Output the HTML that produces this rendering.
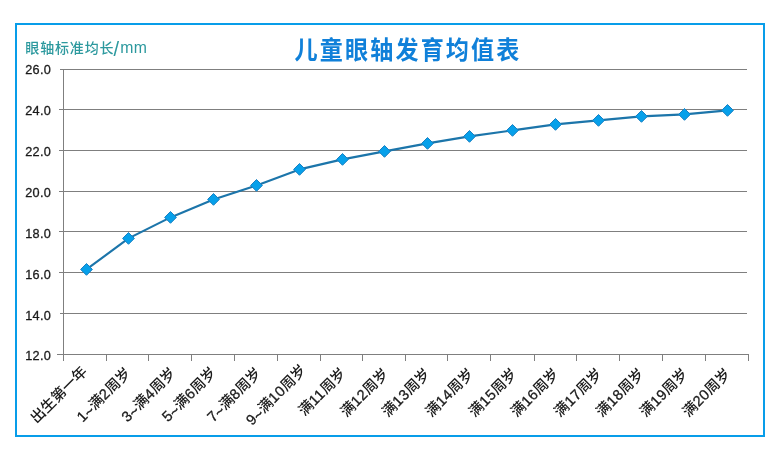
<!DOCTYPE html>
<html lang="zh-CN">
<head>
<meta charset="utf-8">
<title>儿童眼轴发育均值表</title>
<style>
html,body{margin:0;padding:0;background:#fff;}
body{width:780px;height:460px;overflow:hidden;position:relative;font-family:"Liberation Sans", "Noto Sans CJK SC", sans-serif;}
.frame{position:absolute;left:15px;top:23px;width:746px;height:410px;border:2px solid #089de9;background:#fff;}
svg{position:absolute;left:0;top:0;display:block;}
svg text{font-family:"Liberation Sans", "Noto Sans CJK SC", sans-serif;}
.title{font-size:25.5px;font-weight:700;fill:#1080d9;letter-spacing:2.4px;}
.ytitle{font-size:14px;fill:#2c999e;letter-spacing:0.85px;font-weight:500;}
.ytitle .sl{font-size:20px;font-weight:400;letter-spacing:0;}
.ytitle .mm{font-size:15.8px;font-weight:400;letter-spacing:0;}
.ylab{font-size:13.3px;fill:#1a1a1a;letter-spacing:0.35px;stroke:#1a1a1a;stroke-width:0.3px;}
.xlab{font-size:14.6px;fill:#1a1a1a;font-weight:500;}
.xlab .t{letter-spacing:0.2px;stroke:#1a1a1a;stroke-width:0.5px;}
.xlab .d{letter-spacing:0.45px;stroke:#1a1a1a;stroke-width:0.3px;}
</style>
</head>
<body>
<div class="frame"></div>
<svg width="780" height="460" viewBox="0 0 780 460">

<g stroke="#7f7f7f" stroke-width="1" fill="none">
<line x1="60.00" y1="69.50" x2="747.00" y2="69.50"/>
<line x1="59.00" y1="109.50" x2="747.00" y2="109.50"/>
<line x1="59.00" y1="150.50" x2="747.00" y2="150.50"/>
<line x1="59.00" y1="191.50" x2="747.00" y2="191.50"/>
<line x1="59.00" y1="231.50" x2="747.00" y2="231.50"/>
<line x1="59.00" y1="272.50" x2="747.00" y2="272.50"/>
<line x1="60.00" y1="313.50" x2="747.00" y2="313.50"/>
<line x1="57.00" y1="354.50" x2="749.00" y2="354.50"/>
<line x1="63.50" y1="69.50" x2="63.50" y2="361.00"/>
<line x1="106.50" y1="354.50" x2="106.50" y2="361.00"/>
<line x1="148.50" y1="354.50" x2="148.50" y2="361.00"/>
<line x1="191.50" y1="354.50" x2="191.50" y2="361.00"/>
<line x1="234.50" y1="354.50" x2="234.50" y2="361.00"/>
<line x1="277.50" y1="354.50" x2="277.50" y2="361.00"/>
<line x1="320.50" y1="354.50" x2="320.50" y2="361.00"/>
<line x1="362.50" y1="354.50" x2="362.50" y2="361.00"/>
<line x1="405.50" y1="354.50" x2="405.50" y2="361.00"/>
<line x1="447.50" y1="354.50" x2="447.50" y2="361.00"/>
<line x1="490.50" y1="354.50" x2="490.50" y2="361.00"/>
<line x1="534.50" y1="354.50" x2="534.50" y2="361.00"/>
<line x1="576.50" y1="354.50" x2="576.50" y2="361.00"/>
<line x1="619.50" y1="354.50" x2="619.50" y2="361.00"/>
<line x1="662.50" y1="354.50" x2="662.50" y2="361.00"/>
<line x1="705.50" y1="354.50" x2="705.50" y2="361.00"/>
<line x1="748.50" y1="354.50" x2="748.50" y2="361.00"/>
</g>
<polyline fill="none" stroke="#1c75aa" stroke-width="2.15" stroke-linejoin="round" points="86.50,269.40 128.50,238.40 170.50,217.40 213.50,199.40 256.50,185.40 299.50,169.40 342.50,159.40 384.50,151.40 427.50,143.40 469.50,136.40 512.50,130.40 555.50,124.40 598.50,120.40 641.50,116.40 684.50,114.40 727.50,110.40"/>
<g fill="#06a0ea" stroke="#1a80c2" stroke-width="1">
<path d="M86.50 263.50L92.40 269.40L86.50 275.30L80.60 269.40Z"/>
<path d="M128.50 232.50L134.40 238.40L128.50 244.30L122.60 238.40Z"/>
<path d="M170.50 211.50L176.40 217.40L170.50 223.30L164.60 217.40Z"/>
<path d="M213.50 193.50L219.40 199.40L213.50 205.30L207.60 199.40Z"/>
<path d="M256.50 179.50L262.40 185.40L256.50 191.30L250.60 185.40Z"/>
<path d="M299.50 163.50L305.40 169.40L299.50 175.30L293.60 169.40Z"/>
<path d="M342.50 153.50L348.40 159.40L342.50 165.30L336.60 159.40Z"/>
<path d="M384.50 145.50L390.40 151.40L384.50 157.30L378.60 151.40Z"/>
<path d="M427.50 137.50L433.40 143.40L427.50 149.30L421.60 143.40Z"/>
<path d="M469.50 130.50L475.40 136.40L469.50 142.30L463.60 136.40Z"/>
<path d="M512.50 124.50L518.40 130.40L512.50 136.30L506.60 130.40Z"/>
<path d="M555.50 118.50L561.40 124.40L555.50 130.30L549.60 124.40Z"/>
<path d="M598.50 114.50L604.40 120.40L598.50 126.30L592.60 120.40Z"/>
<path d="M641.50 110.50L647.40 116.40L641.50 122.30L635.60 116.40Z"/>
<path d="M684.50 108.50L690.40 114.40L684.50 120.30L678.60 114.40Z"/>
<path d="M727.50 104.50L733.40 110.40L727.50 116.30L721.60 110.40Z"/>
</g>
<text class="title" transform="translate(294.5,58.6) scale(0.905,1)">儿童眼轴发育均值表</text>
<text class="ytitle" x="25.3" y="52.6">眼轴标准均长<tspan class="sl" x="113.5" dy="3.5">/</tspan><tspan class="mm" x="120.2 133.7" dy="-3.1">mm</tspan></text>
<text class="ylab" transform="translate(51.2,73.75) scale(0.955,1.025)" text-anchor="end">26.0</text>
<text class="ylab" transform="translate(51.2,114.71) scale(0.955,1.025)" text-anchor="end">24.0</text>
<text class="ylab" transform="translate(51.2,155.67) scale(0.955,1.025)" text-anchor="end">22.0</text>
<text class="ylab" transform="translate(51.2,196.63) scale(0.955,1.025)" text-anchor="end">20.0</text>
<text class="ylab" transform="translate(51.2,237.59) scale(0.955,1.025)" text-anchor="end">18.0</text>
<text class="ylab" transform="translate(51.2,278.55) scale(0.955,1.025)" text-anchor="end">16.0</text>
<text class="ylab" transform="translate(51.2,319.51) scale(0.955,1.025)" text-anchor="end">14.0</text>
<text class="ylab" transform="translate(51.2,360.47) scale(0.955,1.025)" text-anchor="end">12.0</text>
<text class="xlab" text-anchor="end" transform="translate(88.10,372.40) rotate(-45)">出生第一年</text>
<text class="xlab" text-anchor="end" transform="translate(131.80,373.80) rotate(-45)"><tspan class="d">1</tspan><tspan class="t" dx="-0.4" dy="1.5">~</tspan><tspan dy="-1.5">满</tspan><tspan class="d">2</tspan>周岁</text>
<text class="xlab" text-anchor="end" transform="translate(176.60,373.80) rotate(-45)"><tspan class="d">3</tspan><tspan class="t" dx="-0.4" dy="1.5">~</tspan><tspan dy="-1.5">满</tspan><tspan class="d">4</tspan>周岁</text>
<text class="xlab" text-anchor="end" transform="translate(217.10,373.50) rotate(-45)"><tspan class="d">5</tspan><tspan class="t" dx="-0.4" dy="1.5">~</tspan><tspan dy="-1.5">满</tspan><tspan class="d">6</tspan>周岁</text>
<text class="xlab" text-anchor="end" transform="translate(262.20,373.80) rotate(-45)"><tspan class="d">7</tspan><tspan class="t" dx="-0.4" dy="1.5">~</tspan><tspan dy="-1.5">满</tspan><tspan class="d">8</tspan>周岁</text>
<text class="xlab" text-anchor="end" transform="translate(307.10,371.00) rotate(-45)"><tspan class="d">9</tspan><tspan class="t" dx="-0.4" dy="1.5">~</tspan><tspan dy="-1.5">满</tspan><tspan class="d">10</tspan>周岁</text>
<text class="xlab" text-anchor="end" transform="translate(346.80,374.20) rotate(-45)">满<tspan class="d">11</tspan>周岁</text>
<text class="xlab" text-anchor="end" transform="translate(389.50,374.60) rotate(-45)">满<tspan class="d">12</tspan>周岁</text>
<text class="xlab" text-anchor="end" transform="translate(431.10,374.60) rotate(-45)">满<tspan class="d">13</tspan>周岁</text>
<text class="xlab" text-anchor="end" transform="translate(474.50,374.60) rotate(-45)">满<tspan class="d">14</tspan>周岁</text>
<text class="xlab" text-anchor="end" transform="translate(517.90,374.60) rotate(-45)">满<tspan class="d">15</tspan>周岁</text>
<text class="xlab" text-anchor="end" transform="translate(559.90,374.60) rotate(-45)">满<tspan class="d">16</tspan>周岁</text>
<text class="xlab" text-anchor="end" transform="translate(603.20,374.60) rotate(-45)">满<tspan class="d">17</tspan>周岁</text>
<text class="xlab" text-anchor="end" transform="translate(645.20,374.60) rotate(-45)">满<tspan class="d">18</tspan>周岁</text>
<text class="xlab" text-anchor="end" transform="translate(688.90,374.60) rotate(-45)">满<tspan class="d">19</tspan>周岁</text>
<text class="xlab" text-anchor="end" transform="translate(731.50,374.60) rotate(-45)">满<tspan class="d">20</tspan>周岁</text>
</svg>
</body>
</html>
